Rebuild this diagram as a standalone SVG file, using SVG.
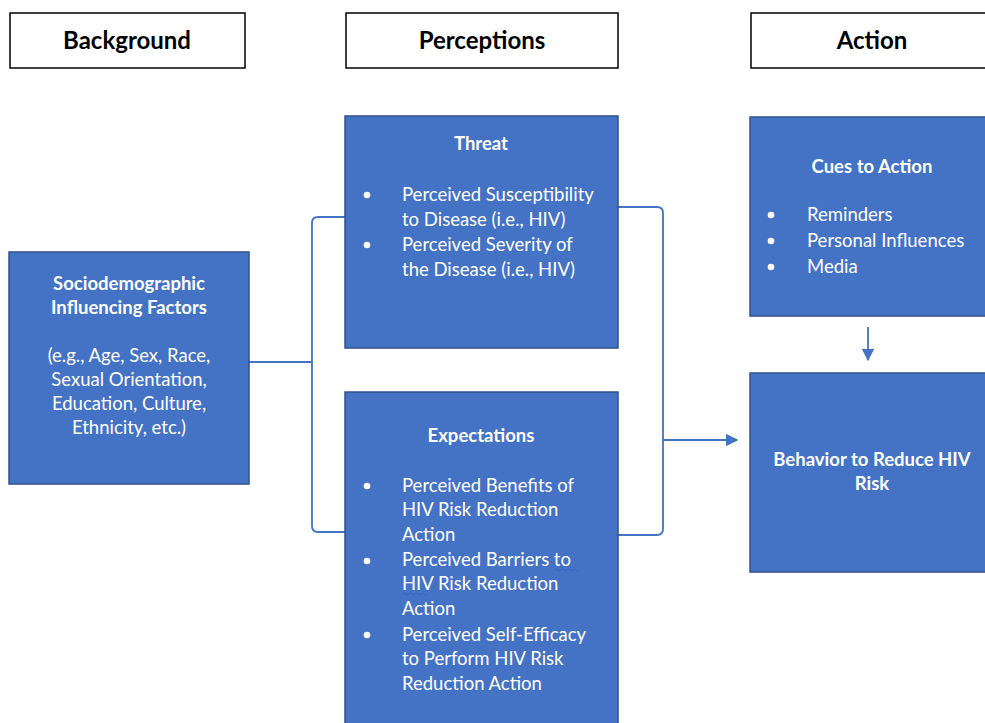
<svg xmlns="http://www.w3.org/2000/svg" width="985" height="723" viewBox="0 0 985 723">
<style>
.hdr{fill:#fff;stroke:#000;stroke-width:1.5}
.hdrt{font-family:Lato,"Open Sans",sans-serif;font-weight:bold;font-size:24px;fill:#000;text-anchor:middle}
.box{fill:#4472C4;stroke:#2F528F;stroke-width:1.5}
.t{font-family:Lato,"Open Sans",sans-serif;font-size:18.5px;fill:#fff}
.b{font-weight:bold;text-anchor:middle}
.c{text-anchor:middle}
.con{fill:none;stroke:#4472C4;stroke-width:1.8}
</style>
<defs>
<marker id="ah" viewBox="0 0 10 10" refX="9" refY="5" markerWidth="7" markerHeight="7" orient="auto" markerUnits="strokeWidth">
<path d="M0,0 L10,5 L0,10 z" fill="#4472C4"/>
</marker>
</defs>
<g id="hdr-background"><rect class="hdr" x="10" y="13" width="235" height="55"/><text class="hdrt" x="127" y="49">Background</text></g>
<g id="hdr-perceptions"><rect class="hdr" x="346" y="13" width="272" height="55"/><text class="hdrt" x="482" y="49">Perceptions</text></g>
<g id="hdr-action"><rect class="hdr" x="751" y="13" width="240" height="55"/><text class="hdrt" x="872" y="49">Action</text></g>

<g id="connectors">
<path class="con" d="M249,362 H312"/>
<path class="con" d="M345,217 H318 Q312,217 312,223 V526 Q312,532 318,532 H345"/>
<path class="con" d="M618,207 H657 Q663,207 663,213 V529 Q663,535 657,535 H618"/>
<path class="con" d="M663,440 H737" marker-end="url(#ah)"/>
<path class="con" d="M868,327 V360" marker-end="url(#ah)"/>
</g>

<g id="sociodemographic">
<rect class="box" x="9" y="252" width="240" height="232"/>
<text class="t b" x="129" y="290">Sociodemographic</text>
<text class="t b" x="129" y="314">Influencing Factors</text>
<text class="t c" x="129" y="362">(e.g., Age, Sex, Race,</text>
<text class="t c" x="129" y="386">Sexual Orientation,</text>
<text class="t c" x="129" y="410">Education, Culture,</text>
<text class="t c" x="129" y="434">Ethnicity, etc.)</text>
</g>

<g id="threat">
<rect class="box" x="345" y="116" width="273" height="232"/>
<text class="t b" x="481" y="150">Threat</text>
<circle cx="367" cy="195" r="3.3" fill="#fff"/>
<circle cx="367" cy="245" r="3.3" fill="#fff"/>
<text class="t" x="402" y="201">Perceived Susceptibility</text>
<text class="t" x="402" y="226">to Disease (i.e., HIV)</text>
<text class="t" x="402" y="251">Perceived Severity of</text>
<text class="t" x="402" y="276">the Disease (i.e., HIV)</text>
</g>

<g id="expectations">
<rect class="box" x="345" y="392" width="273" height="340"/>
<text class="t b" x="481" y="442">Expectations</text>
<circle cx="367" cy="486" r="3.3" fill="#fff"/>
<circle cx="367" cy="561" r="3.3" fill="#fff"/>
<circle cx="367" cy="635" r="3.3" fill="#fff"/>
<text class="t" x="402" y="492">Perceived Benefits of</text>
<text class="t" x="402" y="516">HIV Risk Reduction</text>
<text class="t" x="402" y="541">Action</text>
<text class="t" x="402" y="566">Perceived Barriers to</text>
<text class="t" x="402" y="590">HIV Risk Reduction</text>
<text class="t" x="402" y="615">Action</text>
<text class="t" x="402" y="641">Perceived Self-Efficacy</text>
<text class="t" x="402" y="665">to Perform HIV Risk</text>
<text class="t" x="402" y="690">Reduction Action</text>
<path d="M555,570 q1.5,-2 3,0 t3,0 t3,0 t3,0 t3,0 t3,0 t3,0 t3,0" fill="none" stroke="#3A5FCD" stroke-width="1"/>
<path d="M403,594 q1.5,-2 3,0 t3,0 t3,0 t3,0 t3,0 t3,0 t3,0 t3,0" fill="none" stroke="#3A5FCD" stroke-width="1"/>
</g>

<g id="cues">
<rect class="box" x="750" y="117" width="245" height="199"/>
<text class="t b" x="872" y="173">Cues to Action</text>
<circle cx="771" cy="215" r="3.3" fill="#fff"/>
<circle cx="771" cy="241" r="3.3" fill="#fff"/>
<circle cx="771" cy="267" r="3.3" fill="#fff"/>
<text class="t" x="807" y="221">Reminders</text>
<text class="t" x="807" y="247">Personal Influences</text>
<text class="t" x="807" y="273">Media</text>
</g>

<g id="behavior">
<rect class="box" x="750" y="373" width="245" height="199"/>
<text class="t b" x="872" y="466">Behavior to Reduce HIV</text>
<text class="t b" x="872" y="490">Risk</text>
</g>
</svg>
